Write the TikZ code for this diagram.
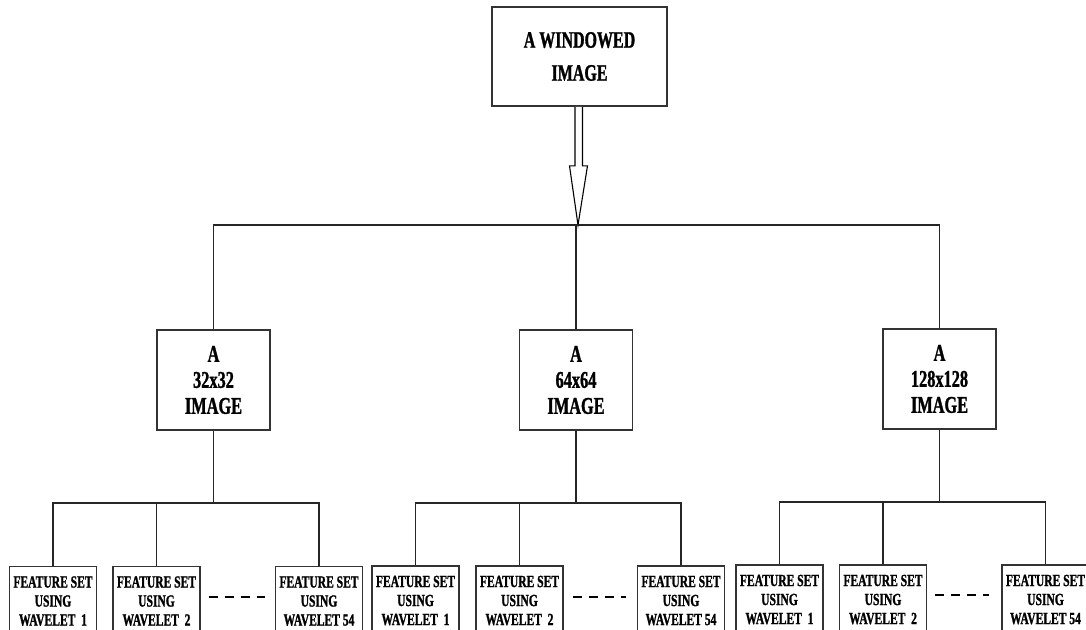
\documentclass[tikz,border=0pt]{standalone}
\usepackage{fontspec}
\setmainfont{Liberation Serif}[FakeStretch=0.68, BoldFeatures={FakeBold=1.2}]
\usetikzlibrary{calc}
\tikzset{
  box/.style={draw=black!80, line width=1.6pt, fill=white, align=center, inner sep=0pt,
    font=\bfseries\fontsize{23}{27}\selectfont},
  topbox/.style={box, minimum width=175pt, minimum height=99pt,
    font=\bfseries\fontsize{23.5}{33}\selectfont},
  sizebox/.style={box, minimum width=113pt, minimum height=100pt,
    font=\bfseries\fontsize{24}{26}\selectfont},
  featbox/.style={box, anchor=north, minimum width=87pt, inner ysep=10pt,
    font=\bfseries\fontsize{17}{19}\selectfont},
  link/.style={draw=black!85, line width=1.5pt},
  gap/.style={draw=black, line width=1.6pt, dash pattern=on 9pt off 7pt}
}
\begin{document}
\begin{tikzpicture}[x=1pt, y=-1pt]
\useasboundingbox (0,0) rectangle (1086,629);
\clip (0,0) rectangle (1086,629);

% root
\node[topbox] (root) at (579.5,56.5) {A WINDOWED\\IMAGE};

% image sizes
\node[sizebox] (m1) at (213.5,380) {A\\32x32\\IMAGE};
\node[sizebox] (m2) at (576,380) {A\\64x64\\IMAGE};
\node[sizebox] (m3) at (939.5,379) {A\\128x128\\IMAGE};

% feature sets (boxes run past the lower edge)
\node[featbox] (f11) at (53,565.5)   {FEATURE SET\\USING\\WAVELET~~1};
\node[featbox] (f12) at (156.5,565.5){FEATURE SET\\USING\\WAVELET~~2};
\node[featbox] (f13) at (319,565.5)  {FEATURE SET\\USING\\WAVELET 54};
\node[featbox] (f21) at (415.5,565)  {FEATURE SET\\USING\\WAVELET~~1};
\node[featbox] (f22) at (519.5,565)  {FEATURE SET\\USING\\WAVELET~~2};
\node[featbox] (f23) at (681,565)    {FEATURE SET\\USING\\WAVELET 54};
\node[featbox] (f31) at (779.5,564)  {FEATURE SET\\USING\\WAVELET~~1};
\node[featbox] (f32) at (883,564)    {FEATURE SET\\USING\\WAVELET~~2};
\node[featbox] (f33) at (1045.5,564) {FEATURE SET\\USING\\WAVELET 54};

% branch levels
\coordinate (t)  at (578,225);
\coordinate (b1) at (m1.south |- 0,503);
\coordinate (b2) at (m2.south |- 0,503);
\coordinate (b3) at (m3.south |- 0,502);

% hollow arrow from the root down to the first branch
\draw[line width=1.1pt, fill=white]
  ($(root.south)+(-4.5,0)$) -- ($(root.south)+(-4.5,59)$) -- ($(root.south)+(-10,59)$)
  -- (t) -- ($(root.south)+(8,59)$) -- ($(root.south)+(3,59)$) -- ($(root.south)+(3,0)$);

% first branch
\draw[link] (m1.north) |- (t) -| (m3.north);
\draw[link] (m2.north) -- (m2.north |- t);

% second branches
\draw[link] (m1.south) -- (b1);
\draw[link] (f11.north) |- (b1) -| (f13.north);
\draw[link] (f12.north) -- (f12.north |- b1);

\draw[link] (m2.south) -- (b2);
\draw[link] (f21.north) |- (b2) -| (f23.north);
\draw[link] (f22.north) -- (f22.north |- b2);

\draw[link] (m3.south) -- (b3);
\draw[link] (f31.north) |- (b3) -| (f33.north);
\draw[link] (f32.north) -- (f32.north |- b3);

% omitted wavelets
\draw[gap] ($(f12.east |- 0,597)+(8,0)$) -- ($(f13.west |- 0,597)+(-10,0)$);
\draw[gap] ($(f22.east |- 0,597)+(9,0)$) -- ($(f23.west |- 0,597)+(-11,0)$);
\draw[gap] ($(f32.east |- 0,595)+(8,0)$) -- ($(f33.west |- 0,595)+(-12,0)$);
\end{tikzpicture}
\end{document}
